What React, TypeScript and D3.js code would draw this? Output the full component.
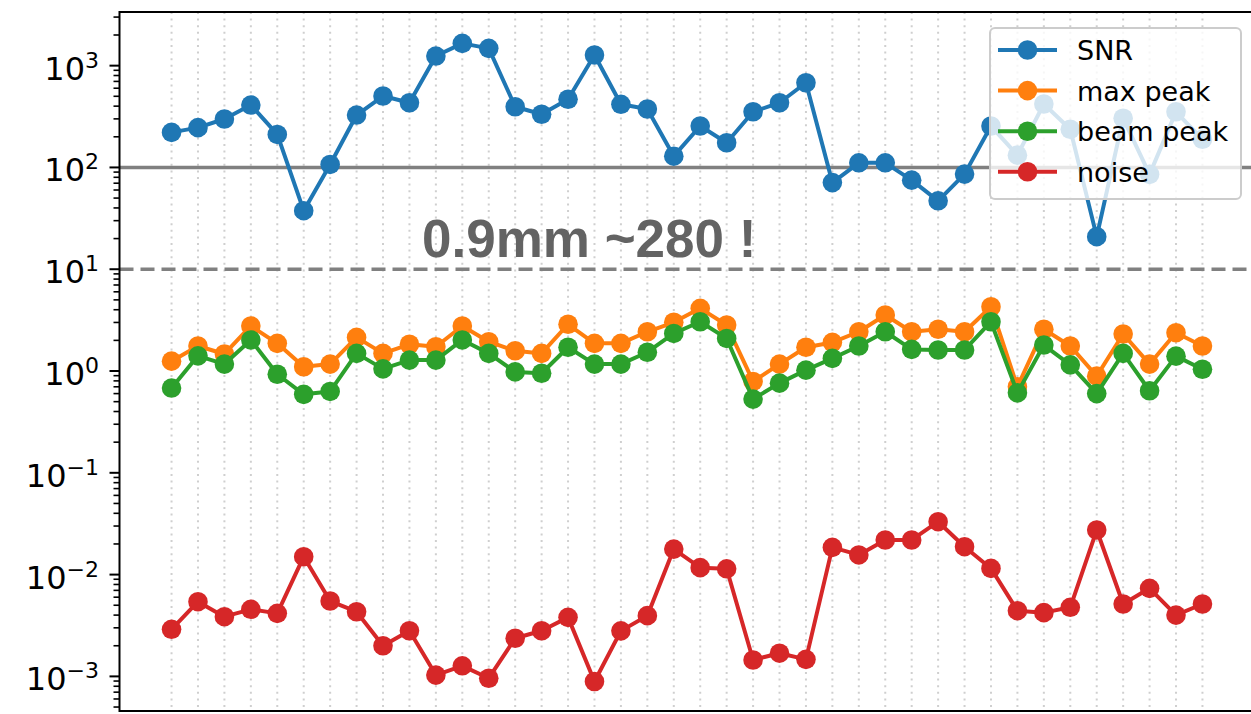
import { useEffect, useRef } from 'react';
import * as d3 from 'd3';

// values (log scale)
const snr = [221, 246, 299, 410, 211, 37.6, 107, 327, 503, 432, 1242, 1656, 1479, 395, 333, 467, 1271, 417, 375, 129, 255, 175, 352, 432, 679, 71, 111, 111, 75, 47, 86, 255, 132, 420, 237, 20.9, 304, 85.5, 352, 189];
const maxPeak = [1.25, 1.76, 1.47, 2.77, 1.87, 1.10, 1.17, 2.14, 1.49, 1.83, 1.73, 2.77, 1.94, 1.58, 1.49, 2.88, 1.87, 1.87, 2.43, 3.01, 4.13, 2.83, 0.79, 1.17, 1.71, 1.91, 2.43, 3.55, 2.43, 2.57, 2.43, 4.28, 0.70, 2.57, 1.76, 0.89, 2.31, 1.17, 2.38, 1.76];
const beamPeak = [0.68, 1.41, 1.17, 2.02, 0.93, 0.59, 0.63, 1.49, 1.05, 1.28, 1.28, 2.02, 1.49, 0.98, 0.95, 1.71, 1.17, 1.17, 1.53, 2.34, 3.05, 2.09, 0.53, 0.76, 1.02, 1.33, 1.76, 2.43, 1.63, 1.61, 1.61, 3.05, 0.61, 1.8, 1.15, 0.60, 1.49, 0.64, 1.40, 1.04];
const noise = [0.0029, 0.00542, 0.00386, 0.00456, 0.00416, 0.015, 0.0055, 0.00432, 0.0020, 0.00281, 0.00103, 0.00127, 0.00096, 0.00237, 0.00281, 0.0038, 0.00089, 0.0028, 0.00395, 0.0178, 0.0117, 0.0114, 0.00145, 0.00169, 0.00147, 0.0185, 0.0156, 0.0219, 0.0219, 0.0331, 0.0188, 0.0115, 0.00442, 0.00423, 0.00477, 0.0274, 0.00514, 0.00733, 0.0040, 0.00514];

const seriesNames = ['SNR', 'max peak', 'beam peak', 'noise'];
const seriesColors = ['#1f77b4', '#ff7f0e', '#2ca02c', '#d62728'];
const solidLevel = 100;
const dashedLevel = 10;
const annotation = '0.9mm ~280 !';

const W = 1251;
const H = 714;

export default function App() {
  const svgRef = useRef<SVGSVGElement>(null);

  useEffect(() => {
    if (!svgRef.current) return;
    const svg = d3.select(svgRef.current);
    svg.selectAll('*').remove();

    const left = 119.5, top = 12, bottom = 711, right = 1254;
    const n = snr.length;

    const x = d3.scaleLinear().domain([-1.95, n - 1 + 1.95]).range([120, right]);
    const y = d3.scaleLog().domain([Math.pow(10, -3.34), Math.pow(10, 3.527)]).range([bottom, top]);

    // vertical dotted grid at each index
    const idx = d3.range(n);
    svg.append('g')
      .selectAll('line')
      .data(idx)
      .join('line')
      .attr('x1', d => x(d)).attr('x2', d => x(d))
      .attr('y1', top).attr('y2', bottom)
      .attr('stroke', '#cfcfcf')
      .attr('stroke-width', 2)
      .attr('stroke-dasharray', '2,4.6');

    // reference lines
    svg.append('line')
      .attr('x1', left).attr('x2', W)
      .attr('y1', y(solidLevel)).attr('y2', y(solidLevel))
      .attr('stroke', '#808080').attr('stroke-width', 3.5);
    svg.append('line')
      .attr('x1', left).attr('x2', W)
      .attr('y1', y(dashedLevel)).attr('y2', y(dashedLevel))
      .attr('stroke', '#808080').attr('stroke-width', 3.5)
      .attr('stroke-dasharray', '14,7');

    // annotation
    svg.append('text')
      .attr('x', 422).attr('y', 256.5)
      .attr('font-family', '"Liberation Sans", Arial, sans-serif')
      .attr('font-weight', 'bold')
      .attr('font-size', 53)
      .attr('fill', '#636363')
      .text(annotation);

    // series
    const allSeries = [snr, maxPeak, beamPeak, noise];
    const line = d3.line<number>().x((_, i) => x(i)).y(d => y(d));
    allSeries.forEach((vals, si) => {
      const g = svg.append('g');
      g.append('path')
        .datum(vals)
        .attr('d', line)
        .attr('fill', 'none')
        .attr('stroke', seriesColors[si])
        .attr('stroke-width', 4)
        .attr('stroke-linejoin', 'round');
      g.selectAll('circle')
        .data(vals)
        .join('circle')
        .attr('cx', (_, i) => x(i))
        .attr('cy', d => y(d))
        .attr('r', 9.8)
        .attr('fill', seriesColors[si]);
    });

    // y ticks
    const ticks = y.ticks().filter(t => y(t) >= top - 0.5 && y(t) <= bottom + 0.5);
    const tg = svg.append('g');
    ticks.forEach(t => {
      const lg = Math.log10(t);
      const major = Math.abs(lg - Math.round(lg)) < 1e-6;
      const yy = y(t);
      tg.append('line')
        .attr('x1', left - (major ? 10 : 6)).attr('x2', left)
        .attr('y1', yy).attr('y2', yy)
        .attr('stroke', 'black').attr('stroke-width', major ? 2 : 1.6);
      if (major) {
        const e = Math.round(lg);
        const txt = tg.append('text')
          .attr('x', 99).attr('y', yy + 14)
          .attr('text-anchor', 'end')
          .attr('font-family', '"DejaVu Sans", sans-serif')
          .attr('fill', 'black');
        txt.append('tspan').attr('font-size', 32).text('10');
        txt.append('tspan').attr('font-size', 22).attr('dy', -12)
          .text(e < 0 ? `\u2212${-e}` : `${e}`);
      }
    });

    // spines
    svg.append('line').attr('x1', left).attr('x2', left).attr('y1', top - 1).attr('y2', bottom + 1)
      .attr('stroke', 'black').attr('stroke-width', 2);
    svg.append('line').attr('x1', left).attr('x2', W).attr('y1', top).attr('y2', top)
      .attr('stroke', 'black').attr('stroke-width', 2);
    svg.append('line').attr('x1', left).attr('x2', W).attr('y1', bottom).attr('y2', bottom)
      .attr('stroke', 'black').attr('stroke-width', 2);

    // legend
    const leg = svg.append('g');
    leg.append('rect')
      .attr('x', 990).attr('y', 28).attr('width', 251).attr('height', 171).attr('rx', 5)
      .attr('fill', 'white').attr('fill-opacity', 0.8)
      .attr('stroke', '#cccccc').attr('stroke-width', 2);
    seriesNames.forEach((name, i) => {
      const yy = 50 + i * 40.6;
      leg.append('line')
        .attr('x1', 998).attr('x2', 1057).attr('y1', yy).attr('y2', yy)
        .attr('stroke', seriesColors[i]).attr('stroke-width', 4);
      leg.append('circle').attr('cx', 1027.5).attr('cy', yy).attr('r', 9.8).attr('fill', seriesColors[i]);
      leg.append('text')
        .attr('x', 1077).attr('y', yy + 10)
        .attr('font-family', '"DejaVu Sans", sans-serif')
        .attr('font-size', 27)
        .attr('fill', 'black')
        .text(name);
    });
  }, []);

  return (
    <svg
      ref={svgRef}
      width={W}
      height={H}
      style={{ position: 'absolute', left: 0, top: 0, background: 'white' }}
    />
  );
}
